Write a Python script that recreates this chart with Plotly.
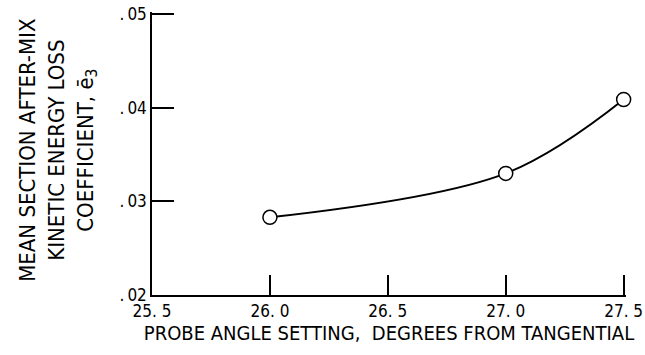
import plotly.graph_objects as go

angle = [26.0, 27.0, 27.5]
loss = [0.0283, 0.0330, 0.0409]

x_ticks = [25.5, 26.0, 26.5, 27.0, 27.5]
x_ticktext = ["25. 5", "26. 0", "26. 5", "27. 0", "27. 5"]
y_ticks = [0.02, 0.03, 0.04, 0.05]
y_ticktext = [".\u200902", ".\u200903", ".\u200904", ".\u200905"]

FONT = "DejaVu Sans Condensed, Liberation Sans Narrow, sans-serif"

fig = go.Figure()
fig.add_trace(go.Scatter(
    x=angle, y=loss, mode="lines+markers",
    line=dict(color="black", width=2, shape="spline", smoothing=1.0),
    marker=dict(size=14, color="white", line=dict(color="black", width=1.5)),
    cliponaxis=False, showlegend=False,
))

fig.update_layout(
    width=645, height=355,
    margin=dict(l=152, r=19, t=12, b=60),
    paper_bgcolor="white", plot_bgcolor="white",
    font=dict(family=FONT, size=17, color="black"),
    xaxis=dict(
        range=[25.5, 27.51], tickvals=x_ticks, ticktext=x_ticktext,
        ticks="inside", ticklen=20, tickwidth=1.5, tickcolor="black",
        showline=True, linecolor="black", linewidth=1.5,
        showgrid=False, zeroline=False, automargin=False,
        ticklabelstandoff=0, ticklabeloverflow="allow",
        title=dict(text="PROBE ANGLE SETTING,  DEGREES FROM TANGENTIAL", standoff=0),
    ),
    yaxis=dict(
        range=[0.02, 0.05025], tickvals=y_ticks, ticktext=y_ticktext,
        ticks="inside", ticklen=22, tickwidth=1.5, tickcolor="black",
        showline=True, linecolor="black", linewidth=1.5,
        showgrid=False, zeroline=False, automargin=False,
        ticklabeloverflow="allow",
    ),
    annotations=[dict(
        text="MEAN SECTION AFTER-MIX<br>KINETIC ENERGY LOSS<br>COEFFICIENT, ē<sub>3</sub>",
        xref="paper", yref="paper", x=-0.198, y=0.51, xanchor="center", yanchor="middle",
        textangle=-90, showarrow=False, font=dict(family=FONT, size=22),
    )],
)

fig.write_html("out.html", config={"displayModeBar": False},
               post_script="document.body.style.margin='0px';")
